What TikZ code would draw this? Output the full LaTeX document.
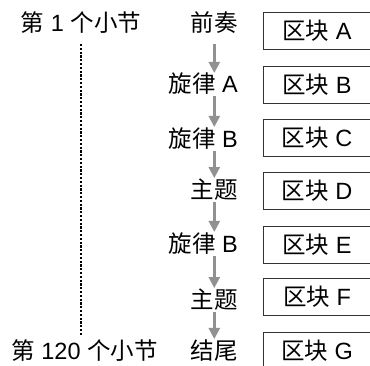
\documentclass[tikz,border=0pt]{standalone}
\usepackage{fontspec}
\setmainfont{Liberation Sans}
\newfontfamily\cjk{Noto Sans CJK SC}
\usetikzlibrary{arrows.meta}
\newcommand{\zh}[1]{{\cjk #1}}
\definecolor{flowgray}{RGB}{145,145,145}

\begin{document}
\begin{tikzpicture}[x=1pt, y=-1pt,
    txt/.style={inner sep=0pt, font=\fontsize{23.5}{26}\selectfont},
    part/.style={txt, anchor=east},
    block/.style={txt, draw=black!80, line width=0.9pt,
      minimum width=108pt, minimum height=37pt},
    flow/.style={draw=flowgray, line width=2.4pt, shorten <=1pt, shorten >=1pt,
      -{Triangle[width=11pt, length=11pt]}},
    bar/.style={line width=2.2pt, dash pattern=on 2.2pt off 1.6pt}]
  \clip (0,0) rectangle (370,365);

  % bar numbers
  \node[txt] (s1) at (81,23) {\zh{第} 1 \zh{个小节}};
  \node[txt] (s2) at (84.5,351) {\zh{第} 120 \zh{个小节}};
  \draw[bar, shorten <=10pt, shorten >=4pt] (s1.south) -- (s1.south |- s2.north);

  % song parts
  \node[part] (p0) at (238,23)  {\zh{前奏}};
  \node[part] (p1) at (238,84)  {\zh{旋律} A};
  \node[part] (p2) at (238,139) {\zh{旋律} B};
  \node[part] (p3) at (238,190) {\zh{主题}};
  \node[part] (p4) at (238,244) {\zh{旋律} B};
  \node[part] (p5) at (238,300) {\zh{主题}};
  \node[part] (p6) at (238,351) {\zh{结尾}};

  \draw[flow, xshift=2.5pt, shorten <=10pt, shorten >=0pt] (p0.south) -- (p0.south |- p1.north);
  \foreach \a/\b in {p1/p2, p2/p3, p3/p4, p4/p5, p5/p6}
    \draw[flow, xshift=2.5pt] (\a.south -| p0.south) -- (p0.south |- \b.north);

  % blocks
  \foreach \n/\y in {A/31, B/84.5, C/138, D/191, E/244.5, F/297, G/351}
    \node[block] (b\n) at (317,\y) {\zh{区块} \n};
\end{tikzpicture}
\end{document}
